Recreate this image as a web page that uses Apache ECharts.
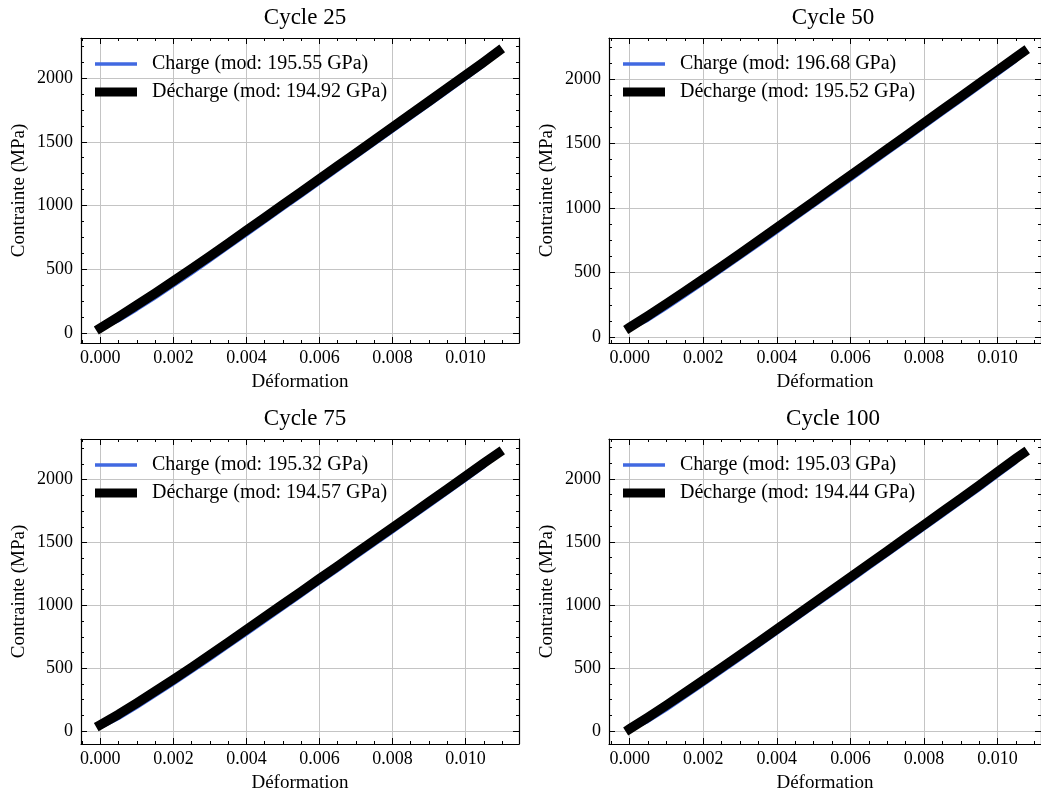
<!DOCTYPE html>
<html>
<head>
<meta charset="utf-8">
<script src="https://cdn.jsdelivr.net/npm/echarts@6/dist/echarts.min.js"></script>
<style>
  html, body { margin: 0; padding: 0; background: #fff; }
  #chart { width: 1041px; height: 794px; }
</style>
</head>
<body>
<div id="chart"></div>
<script>
// Strain sample points (left column: cycles 25/75, right column: cycles 50/100)
const strainA = [0, 0.0005, 0.001, 0.0015, 0.002, 0.0025, 0.003, 0.0035, 0.004, 0.0045, 0.005, 0.0055,
                 0.006, 0.0065, 0.007, 0.0075, 0.008, 0.0085, 0.009, 0.0095, 0.010, 0.0105, 0.0109];
const strainB = [0, 0.0005, 0.001, 0.0015, 0.002, 0.0025, 0.003, 0.0035, 0.004, 0.0045, 0.005, 0.0055,
                 0.006, 0.0065, 0.007, 0.0075, 0.008, 0.0085, 0.009, 0.0095, 0.010, 0.0105, 0.0107];

// Stress (MPa)
const charge25     = [30, 95, 182, 274, 369, 466, 565, 666, 767, 868, 970, 1071, 1173, 1274, 1376, 1478, 1580, 1682, 1784, 1887, 1990, 2095, 2205];
const discharge25  = [40, 128, 220, 313, 408, 505, 604, 704, 805, 906, 1007, 1108, 1210, 1311, 1412, 1514, 1615, 1717, 1818, 1920, 2022, 2125, 2210];
const charge50     = [60, 130, 222, 317, 413, 511, 610, 710, 811, 912, 1013, 1115, 1216, 1318, 1420, 1522, 1624, 1726, 1828, 1930, 2033, 2138, 2200];
const discharge50  = [75, 165, 259, 354, 450, 548, 647, 747, 848, 949, 1050, 1152, 1253, 1355, 1456, 1558, 1660, 1762, 1864, 1966, 2068, 2170, 2210];
const charge75     = [25, 98, 186, 279, 373, 469, 568, 668, 769, 870, 971, 1073, 1175, 1276, 1378, 1480, 1582, 1685, 1787, 1890, 1993, 2098, 2205];
const discharge75  = [50, 133, 224, 317, 411, 507, 606, 706, 807, 908, 1009, 1110, 1212, 1313, 1415, 1517, 1619, 1721, 1823, 1926, 2029, 2132, 2212];
const charge100    = [5, 76, 168, 266, 366, 467, 568, 670, 773, 876, 979, 1082, 1185, 1289, 1392, 1496, 1600, 1704, 1808, 1912, 2020, 2128, 2195];
const discharge100 = [18, 110, 206, 304, 403, 503, 604, 706, 809, 912, 1015, 1118, 1221, 1325, 1428, 1532, 1636, 1740, 1844, 1948, 2056, 2162, 2203];

const cycles       = ['Cycle 25', 'Cycle 50', 'Cycle 75', 'Cycle 100'];
const chargeMod    = ['195.55', '196.68', '195.32', '195.03'];
const dischargeMod = ['194.92', '195.52', '194.57', '194.44'];
const strainSets   = [strainA, strainB, strainA, strainB];
const chargeSets   = [charge25, charge50, charge75, charge100];
const dischargeSets= [discharge25, discharge50, discharge75, discharge100];

// Panel frames and axis extents
const panels = [
  { left: 81,  top: 38,  width: 438, height: 305, xMin: -0.000530, xMax: 0.011465, yMin: -78,  yMax: 2314 },
  { left: 609, top: 38,  width: 438, height: 305, xMin: -0.000563, xMax: 0.011180, yMin: -46,  yMax: 2318 },
  { left: 81,  top: 439, width: 438, height: 307, xMin: -0.000530, xMax: 0.011465, yMin: -103, yMax: 2324 },
  { left: 609, top: 439, width: 438, height: 307, xMin: -0.000563, xMax: 0.011180, yMin: -102, yMax: 2316 }
];

const FONT = "'Liberation Serif', 'Times New Roman', serif";
const BLUE = '#4169e1';
const BLACK = '#000000';

const pair = (xs, ys) => xs.map((x, i) => [x, ys[i]]);

const option = {
  backgroundColor: '#ffffff',
  animation: false,
  title: [], grid: [], xAxis: [], yAxis: [], legend: [], series: []
};

panels.forEach((p, k) => {
  option.title.push({
    text: cycles[k],
    left: p.left + p.width / 2,
    top: p.top - 37,
    textAlign: 'center',
    textStyle: { fontFamily: FONT, fontSize: 23, fontWeight: 'normal', color: '#000' }
  });
  option.grid.push({ left: p.left, top: p.top, width: p.width, height: p.height, containLabel: false });

  const tickIn = { show: true, inside: true, length: 6, lineStyle: { color: '#000', width: 1 } };
  const minorIn = { show: true, inside: true, length: 3, splitNumber: 4, lineStyle: { color: '#000', width: 1 } };
  const grid = { show: true, lineStyle: { color: '#c4c4c4', width: 1 } };
  const axisLine = { show: true, onZero: false, lineStyle: { color: '#000', width: 1.2 } };

  // bottom x axis
  option.xAxis.push({
    type: 'value', gridIndex: k, position: 'bottom', min: p.xMin, max: p.xMax,
    minInterval: 0.002, maxInterval: 0.002,
    name: 'Déformation', nameLocation: 'middle', nameGap: 30,
    nameTextStyle: { fontFamily: FONT, fontSize: 19, color: '#000' },
    axisLine, axisTick: tickIn, minorTick: minorIn, splitLine: grid,
    axisLabel: { fontFamily: FONT, fontSize: 18, color: '#000', margin: 6,
                 showMinLabel: false, showMaxLabel: false, formatter: v => v.toFixed(3) }
  });
  // top x axis (ticks only)
  option.xAxis.push({
    type: 'value', gridIndex: k, position: 'top', min: p.xMin, max: p.xMax,
    minInterval: 0.002, maxInterval: 0.002,
    axisLine, axisTick: tickIn, minorTick: minorIn, splitLine: { show: false },
    axisLabel: { show: false }
  });
  // left y axis
  option.yAxis.push({
    type: 'value', gridIndex: k, position: 'left', min: p.yMin, max: p.yMax,
    minInterval: 500, maxInterval: 500,
    name: 'Contrainte (MPa)', nameLocation: 'middle', nameGap: 52,
    nameTextStyle: { fontFamily: FONT, fontSize: 19, color: '#000' },
    axisLine, axisTick: tickIn, minorTick: minorIn, splitLine: grid,
    axisLabel: { fontFamily: FONT, fontSize: 18, color: '#000', margin: 8,
                 showMinLabel: false, showMaxLabel: false, formatter: v => String(Math.round(v)) }
  });
  // right y axis (ticks only)
  option.yAxis.push({
    type: 'value', gridIndex: k, position: 'right', min: p.yMin, max: p.yMax,
    minInterval: 500, maxInterval: 500,
    axisLine, axisTick: tickIn, minorTick: minorIn, splitLine: { show: false },
    axisLabel: { show: false }
  });

  const nameC = 'Charge (mod: ' + chargeMod[k] + ' GPa)';
  const nameD = 'Décharge (mod: ' + dischargeMod[k] + ' GPa)';

  option.series.push({
    name: nameC, type: 'line', xAxisIndex: 2 * k, yAxisIndex: 2 * k,
    data: pair(strainSets[k], chargeSets[k]),
    showSymbol: false, symbol: 'none', smooth: false, z: 2,
    color: BLUE, itemStyle: { color: BLUE },
    lineStyle: { color: BLUE, width: 3, join: 'round' }
  });
  option.series.push({
    name: nameD, type: 'line', xAxisIndex: 2 * k, yAxisIndex: 2 * k,
    data: pair(strainSets[k], dischargeSets[k]),
    showSymbol: false, symbol: 'none', smooth: false, z: 3,
    color: BLACK, itemStyle: { color: BLACK },
    lineStyle: { color: BLACK, width: 9.5, cap: 'square', join: 'round' }
  });

  const legendBase = {
    orient: 'vertical', left: p.left + 14, padding: 0, icon: 'rect', itemWidth: 42,
    selectedMode: false,
    textStyle: { fontFamily: FONT, fontSize: 20, color: '#000' },
    formatter: n => '  ' + n
  };
  option.legend.push(Object.assign({}, legendBase, { top: p.top + 16, itemHeight: 3.5, data: [nameC] }));
  option.legend.push(Object.assign({}, legendBase, { top: p.top + 44, itemHeight: 9, data: [nameD] }));
});

const chart = echarts.init(document.getElementById('chart'), null, { renderer: 'canvas' });
chart.setOption(option);
</script>
</body>
</html>
